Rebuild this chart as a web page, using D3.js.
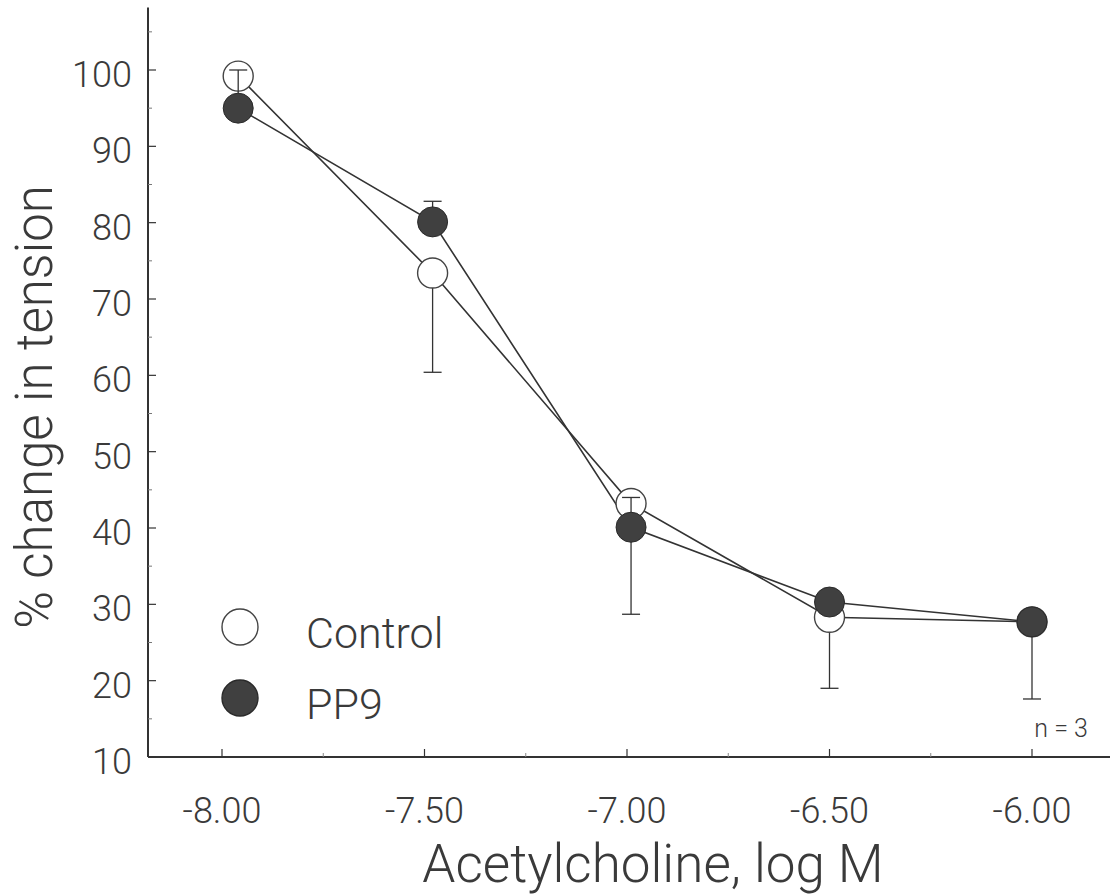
<!DOCTYPE html>
<html><head><meta charset="utf-8">
<script src="https://cdn.jsdelivr.net/npm/d3@7"></script>
<style>body{margin:0;background:#fff}svg{display:block}</style>
</head><body>
<svg id="c" width="1115" height="896"></svg>
<script>
// data
const doses = [-7.96, -7.48, -6.99, -6.50, -6.00];
const controlMean = [99.2, 73.4, 43.2, 28.3, 27.7];
const controlErrUp = [0, 0, 0, 0, 0];
const controlErrDown = [0, 13.0, 0, 9.3, 0];
const pp9Mean = [95.0, 80.1, 40.1, 30.3, 27.7];
const pp9ErrUp = [5.0, 2.7, 3.9, 0, 0];
const pp9ErrDown = [0, 0, 11.4, 0, 10.1];
const xTicks = [-8.0, -7.5, -7.0, -6.5, -6.0];
const xMinorTicks = [-7.75, -7.25, -6.75, -6.25];
const yTicks = [10, 20, 30, 40, 50, 60, 70, 80, 90, 100];
const yMinorTicks = [15, 25, 35, 45, 55, 65, 75, 85, 95, 105];
const legendLabels = ["Control", "PP9"];

const svg = d3.select("#c");
const font = "Roboto, 'Liberation Sans', Arial, sans-serif";
const ink = "#333";
const txt = "#3a3a3a";
const x = d3.scaleLinear().domain([-8, -6]).range([222, 1032]);
const y = d3.scaleLinear().domain([10, 100]).range([757, 70]);
const axX = 148, axY = 757;

function label(sel) {
  return sel.attr("font-family", font).attr("font-weight", 300).attr("fill", txt);
}

// axes lines
svg.append("line").attr("x1", axX).attr("x2", axX).attr("y1", y(108.2)).attr("y2", axY)
  .attr("stroke", ink).attr("stroke-width", 2);
svg.append("line").attr("x1", axX).attr("x2", 1110).attr("y1", axY).attr("y2", axY)
  .attr("stroke", ink).attr("stroke-width", 2);

// y ticks
svg.selectAll(".yt").data(yTicks).join("line")
  .attr("x1", axX).attr("x2", axX + 8).attr("y1", d => y(d)).attr("y2", d => y(d))
  .attr("stroke", ink).attr("stroke-width", 1.2);
svg.selectAll(".ym").data(yMinorTicks).join("line")
  .attr("x1", axX).attr("x2", axX + 4).attr("y1", d => y(d)).attr("y2", d => y(d))
  .attr("stroke", "#777").attr("stroke-width", 1);
label(svg.selectAll(".yl").data(yTicks).join("text"))
  .attr("x", 132).attr("y", d => y(d) + 17)
  .attr("text-anchor", "end").attr("font-size", 36).text(d => d);

// x ticks
svg.selectAll(".xt").data(xTicks).join("line")
  .attr("x1", d => x(d)).attr("x2", d => x(d)).attr("y1", axY).attr("y2", axY - 8)
  .attr("stroke", ink).attr("stroke-width", 1.2);
svg.selectAll(".xm").data(xMinorTicks).join("line")
  .attr("x1", d => x(d)).attr("x2", d => x(d)).attr("y1", axY).attr("y2", axY - 4)
  .attr("stroke", "#888").attr("stroke-width", 1);
label(svg.selectAll(".xl").data(xTicks).join("text"))
  .attr("x", d => x(d)).attr("y", 823)
  .attr("text-anchor", "middle").attr("font-size", 36).text(d => d.toFixed(2));

// titles
label(svg.append("text")).attr("x", 653).attr("y", 882).attr("text-anchor", "middle")
  .attr("font-size", 53).text("Acetylcholine, log M");
label(svg.append("text")).attr("transform", "translate(52,407) rotate(-90)")
  .attr("text-anchor", "middle").attr("font-size", 51).text("% change in tension");
label(svg.append("text")).attr("x", 1088).attr("y", 737).attr("text-anchor", "end")
  .attr("font-size", 25).text("n = 3");

const line = d3.line().x(d => x(d[0])).y(d => y(d[1]));
const ctrl = doses.map((d, i) => [d, controlMean[i]]);
const pp9 = doses.map((d, i) => [d, pp9Mean[i]]);
svg.append("path").attr("d", line(ctrl)).attr("fill", "none").attr("stroke", ink).attr("stroke-width", 1.6);
svg.append("path").attr("d", line(pp9)).attr("fill", "none").attr("stroke", ink).attr("stroke-width", 1.6);

function errBars(means, up, down) {
  const g = svg.append("g").attr("stroke", ink).attr("stroke-width", 1.3);
  doses.forEach((d, i) => {
    [[up[i], 1], [down[i], -1]].forEach(([e, s]) => {
      if (!e) return;
      const yc = y(means[i]), ye = y(means[i] + s * e), xc = x(d);
      g.append("line").attr("x1", xc).attr("x2", xc).attr("y1", yc).attr("y2", ye);
      g.append("line").attr("x1", xc - 9).attr("x2", xc + 9).attr("y1", ye).attr("y2", ye);
    });
  });
}
errBars(controlMean, controlErrUp, controlErrDown);
svg.selectAll(".cc").data(ctrl).join("circle")
  .attr("cx", d => x(d[0])).attr("cy", d => y(d[1])).attr("r", 15)
  .attr("fill", "#fff").attr("stroke", "#444").attr("stroke-width", 1.4);
errBars(pp9Mean, pp9ErrUp, pp9ErrDown);
svg.selectAll(".pc").data(pp9).join("circle")
  .attr("cx", d => x(d[0])).attr("cy", d => y(d[1])).attr("r", 15)
  .attr("fill", "#404040").attr("stroke", "#2a2a2a").attr("stroke-width", 1);

// legend
const leg = [[627, "#fff", "#444"], [698, "#404040", "#2a2a2a"]];
leg.forEach(([cy, f, s], i) => {
  svg.append("circle").attr("cx", 240).attr("cy", cy).attr("r", 18)
    .attr("fill", f).attr("stroke", s).attr("stroke-width", 1.4);
  label(svg.append("text")).attr("x", 306).attr("y", cy + 21)
    .attr("font-size", 43).text(legendLabels[i]);
});
</script>
</body></html>
